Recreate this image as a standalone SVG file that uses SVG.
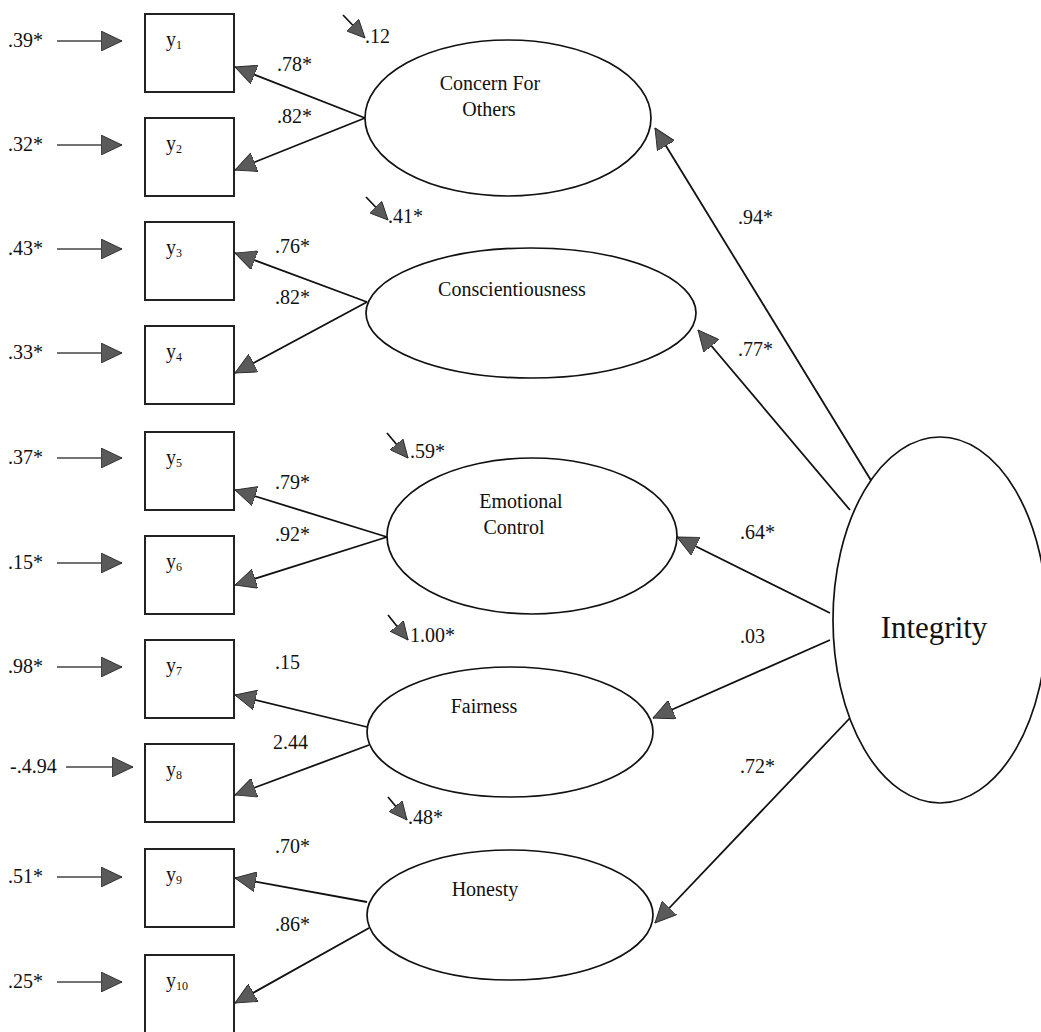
<svg xmlns="http://www.w3.org/2000/svg" width="1041" height="1032" viewBox="0 0 1041 1032">
<style>
  text { font-family: "Liberation Serif", "Times New Roman", serif; fill: #111; }
  .num { font-size: 20px; }
  .lab { font-size: 20px; text-anchor: middle; }
  .big { font-size: 31px; text-anchor: middle; }
  .yl { font-size: 20px; }
  .sub { font-size: 12px; }
  .box { fill: #fff; stroke: #222; stroke-width: 2; }
  .ell { fill: #fff; stroke: #111; stroke-width: 1.7; }
  .con { fill: none; stroke: #111; stroke-width: 1.8; marker-end: url(#ah); }
  .err { fill: none; stroke: #444; stroke-width: 1.6; marker-end: url(#ah); }
  .res { fill: none; stroke: #111; stroke-width: 1.7; marker-end: url(#sh); }
</style>
<defs>
  <marker id="ah" markerUnits="userSpaceOnUse" viewBox="0 0 21 20" refX="21" refY="10" markerWidth="21" markerHeight="20" orient="auto">
    <path d="M0,0 L21,10 L0,20 Z" fill="#5a5a5a" stroke="#2a2a2a" stroke-width="0.9"/>
  </marker>
  <marker id="sh" markerUnits="userSpaceOnUse" viewBox="0 0 18 17" refX="18" refY="8.5" markerWidth="18" markerHeight="17" orient="auto">
    <path d="M0,0 L18,8.5 L0,17 Z" fill="#5a5a5a" stroke="#2a2a2a" stroke-width="0.9"/>
  </marker>
</defs>
<rect width="1041" height="1032" fill="#fff"/>

<g id="connectors">
  <line class="err" x1="57" y1="41" x2="122" y2="41"/>
  <line class="err" x1="57" y1="145" x2="122" y2="145"/>
  <line class="err" x1="57" y1="249" x2="122" y2="249"/>
  <line class="err" x1="57" y1="353" x2="122" y2="353"/>
  <line class="err" x1="57" y1="458" x2="122" y2="458"/>
  <line class="err" x1="57" y1="563" x2="122" y2="563"/>
  <line class="err" x1="57" y1="667" x2="122" y2="667"/>
  <line class="err" x1="66" y1="767" x2="133" y2="767"/>
  <line class="err" x1="57" y1="877" x2="122" y2="877"/>
  <line class="err" x1="57" y1="982" x2="122" y2="982"/>
  <text class="num" x="8" y="47">.39*</text>
  <text class="num" x="8" y="151">.32*</text>
  <text class="num" x="8" y="255">.43*</text>
  <text class="num" x="8" y="359">.33*</text>
  <text class="num" x="8" y="464">.37*</text>
  <text class="num" x="8" y="569">.15*</text>
  <text class="num" x="8" y="673">.98*</text>
  <text class="num" x="10" y="773">-.4.94</text>
  <text class="num" x="8" y="883">.51*</text>
  <text class="num" x="8" y="988">.25*</text>

  <line class="con" x1="365" y1="118" x2="235" y2="67"/>
  <line class="con" x1="365" y1="118" x2="235" y2="170"/>
  <line class="con" x1="367" y1="302" x2="235" y2="253"/>
  <line class="con" x1="367" y1="302" x2="235" y2="373"/>
  <line class="con" x1="387" y1="537" x2="235" y2="490"/>
  <line class="con" x1="387" y1="537" x2="235" y2="585"/>
  <line class="con" x1="367" y1="727" x2="235" y2="695"/>
  <line class="con" x1="369" y1="745" x2="235" y2="795"/>
  <line class="con" x1="367" y1="902" x2="235" y2="878"/>
  <line class="con" x1="369" y1="928" x2="235" y2="1003"/>
  <text class="num" x="277" y="71">.78*</text>
  <text class="num" x="277" y="123">.82*</text>
  <text class="num" x="275" y="253">.76*</text>
  <text class="num" x="275" y="304">.82*</text>
  <text class="num" x="275" y="489">.79*</text>
  <text class="num" x="275" y="541">.92*</text>
  <text class="num" x="275" y="669">.15</text>
  <text class="num" x="273" y="749">2.44</text>
  <text class="num" x="275" y="853">.70*</text>
  <text class="num" x="275" y="931">.86*</text>

  <line class="res" x1="343" y1="15" x2="365" y2="38"/>
  <line class="res" x1="366" y1="197" x2="388" y2="220"/>
  <line class="res" x1="387" y1="433" x2="408" y2="458"/>
  <line class="res" x1="388" y1="615" x2="408" y2="640"/>
  <line class="res" x1="388" y1="797" x2="407" y2="820"/>
  <text class="num" x="365" y="43">.12</text>
  <text class="num" x="388" y="223">.41*</text>
  <text class="num" x="410" y="458">.59*</text>
  <text class="num" x="410" y="642">1.00*</text>
  <text class="num" x="408" y="824">.48*</text>

  <line class="con" x1="872" y1="482" x2="655" y2="128"/>
  <line class="con" x1="850" y1="510" x2="698" y2="330"/>
  <line class="con" x1="830" y1="613" x2="677" y2="537"/>
  <line class="con" x1="830" y1="640" x2="653" y2="718"/>
  <line class="con" x1="850" y1="718" x2="655" y2="923"/>
  <text class="num" x="738" y="224">.94*</text>
  <text class="num" x="738" y="356">.77*</text>
  <text class="num" x="740" y="539">.64*</text>
  <text class="num" x="740" y="643">.03</text>
  <text class="num" x="740" y="773">.72*</text>
</g>

<g id="y1"><rect class="box" x="145" y="14" width="89" height="78"/><text class="yl" x="166" y="46">y<tspan class="sub" dy="3">1</tspan></text></g>
<g id="y2"><rect class="box" x="145" y="118" width="89" height="78"/><text class="yl" x="166" y="150">y<tspan class="sub" dy="3">2</tspan></text></g>
<g id="y3"><rect class="box" x="145" y="222" width="89" height="78"/><text class="yl" x="166" y="254">y<tspan class="sub" dy="3">3</tspan></text></g>
<g id="y4"><rect class="box" x="145" y="326" width="89" height="78"/><text class="yl" x="166" y="358">y<tspan class="sub" dy="3">4</tspan></text></g>
<g id="y5"><rect class="box" x="145" y="432" width="89" height="78"/><text class="yl" x="166" y="464">y<tspan class="sub" dy="3">5</tspan></text></g>
<g id="y6"><rect class="box" x="145" y="536" width="89" height="78"/><text class="yl" x="166" y="568">y<tspan class="sub" dy="3">6</tspan></text></g>
<g id="y7"><rect class="box" x="145" y="640" width="89" height="78"/><text class="yl" x="166" y="672">y<tspan class="sub" dy="3">7</tspan></text></g>
<g id="y8"><rect class="box" x="145" y="744" width="89" height="78"/><text class="yl" x="166" y="776">y<tspan class="sub" dy="3">8</tspan></text></g>
<g id="y9"><rect class="box" x="145" y="849" width="89" height="78"/><text class="yl" x="166" y="881">y<tspan class="sub" dy="3">9</tspan></text></g>
<g id="y10"><rect class="box" x="145" y="955" width="89" height="78"/><text class="yl" x="166" y="987">y<tspan class="sub" dy="3">10</tspan></text></g>

<g id="concern"><ellipse class="ell" cx="508" cy="118" rx="143" ry="78"/><text class="lab" x="490" y="90">Concern For</text><text class="lab" x="489" y="116">Others</text></g>
<g id="conscientiousness"><ellipse class="ell" cx="531" cy="313" rx="165" ry="65"/><text class="lab" x="512" y="296">Conscientiousness</text></g>
<g id="emotional"><ellipse class="ell" cx="532" cy="536" rx="145" ry="78"/><text class="lab" x="521" y="508">Emotional</text><text class="lab" x="514" y="534">Control</text></g>
<g id="fairness"><ellipse class="ell" cx="510" cy="732" rx="143" ry="65"/><text class="lab" x="484" y="713">Fairness</text></g>
<g id="honesty"><ellipse class="ell" cx="510" cy="915" rx="143" ry="65"/><text class="lab" x="485" y="896">Honesty</text></g>
<g id="integrity"><ellipse class="ell" cx="940" cy="620" rx="107" ry="183"/><text class="big" x="934" y="638">Integrity</text></g>
</svg>
